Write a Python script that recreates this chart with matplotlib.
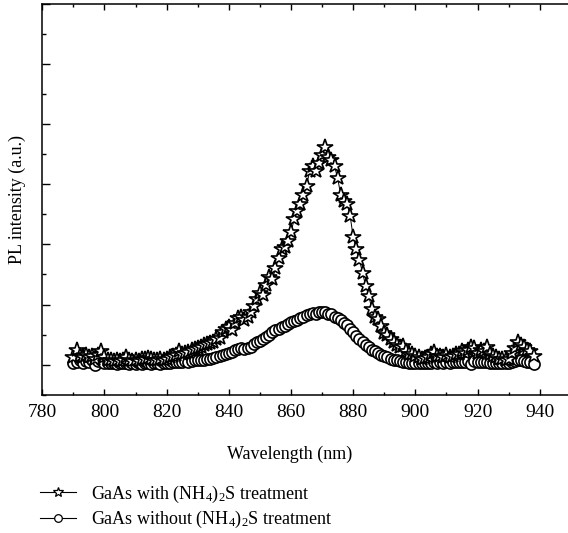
import matplotlib as mpl
mpl.use("Agg")
import matplotlib.pyplot as plt
from matplotlib.lines import Line2D
from matplotlib.ticker import MultipleLocator, NullFormatter
import numpy as np

plt.rcParams["font.family"] = ["Liberation Serif", "DejaVu Serif"]
plt.rcParams["mathtext.fontset"] = "custom"
plt.rcParams["mathtext.rm"] = "Liberation Serif"
plt.rcParams["mathtext.it"] = "Liberation Serif:italic"

# wavelength grid, 1 nm steps
wavelength = np.arange(790, 939)

# GaAs with (NH4)2S treatment (stars)
pl_treated = [
    0.12, 0.25, 0.15, 0.13, 0.16, 0.12, 0.14, 0.10, 0.16, 0.23, 0.12,
    0.08, 0.07, 0.06, 0.07, 0.06, 0.07, 0.12, 0.07, 0.06, 0.07, 0.06, 0.10, 0.10, 0.11, 0.10,
    0.08, 0.08, 0.09, 0.08, 0.10, 0.13, 0.15, 0.16, 0.22, 0.18, 0.19, 0.21, 0.25, 0.26, 0.28,
    0.30, 0.32, 0.34, 0.36, 0.38, 0.42, 0.45, 0.54, 0.60, 0.63, 0.58, 0.70, 0.78, 0.80, 0.74,
    0.79, 0.88, 0.98, 1.10, 1.20, 1.16, 1.33, 1.45, 1.42, 1.60, 1.78, 1.92, 1.95, 2.05, 2.20,
    2.42, 2.55, 2.68, 2.82, 2.98, 3.22, 3.30, 3.22, 3.36, 3.48, 3.62, 3.45, 3.40, 3.30, 3.10,
    2.82, 2.72, 2.68, 2.48, 2.12, 1.92, 1.74, 1.53, 1.31, 1.15, 0.92, 0.80, 0.76, 0.64, 0.52,
    0.50, 0.42, 0.37, 0.33, 0.30, 0.31, 0.22, 0.18, 0.17, 0.14, 0.12, 0.10, 0.11, 0.13, 0.17,
    0.21, 0.15, 0.14, 0.12, 0.16, 0.13, 0.15, 0.18, 0.17, 0.22, 0.20, 0.25, 0.30, 0.27, 0.20,
    0.24, 0.22, 0.30, 0.18, 0.14, 0.12, 0.10, 0.09, 0.08, 0.10, 0.20, 0.28, 0.38, 0.33, 0.30,
    0.25, 0.22, 0.15,
]

# GaAs without (NH4)2S treatment (circles)
pl_untreated = [
    0.02, 0.05, 0.08, 0.03, 0.06, 0.04, 0.08, 0.00, 0.06, 0.07, 0.03,
    0.02, 0.03, 0.02, 0.01, 0.03, 0.02, 0.02, 0.01, 0.02, 0.01, 0.02, 0.01, 0.02, 0.02, 0.01,
    0.02, 0.02, 0.01, 0.02, 0.03, 0.03, 0.04, 0.05, 0.04, 0.05, 0.06, 0.05, 0.06, 0.07, 0.07,
    0.08, 0.08, 0.09, 0.10, 0.11, 0.12, 0.14, 0.16, 0.18, 0.19, 0.21, 0.24, 0.26, 0.27, 0.26,
    0.28, 0.30, 0.34, 0.37, 0.40, 0.42, 0.46, 0.50, 0.54, 0.58, 0.60, 0.62, 0.65, 0.68, 0.71,
    0.73, 0.75, 0.77, 0.80, 0.82, 0.84, 0.86, 0.85, 0.87, 0.88, 0.87, 0.85, 0.84, 0.80, 0.78,
    0.74, 0.70, 0.66, 0.60, 0.54, 0.48, 0.43, 0.38, 0.33, 0.29, 0.25, 0.22, 0.19, 0.16, 0.14,
    0.12, 0.10, 0.08, 0.07, 0.06, 0.05, 0.04, 0.03, 0.03, 0.02, 0.03, 0.02, 0.03, 0.02, 0.03,
    0.04, 0.03, 0.04, 0.03, 0.04, 0.03, 0.04, 0.05, 0.04, 0.05, 0.04, 0.06, 0.01, 0.06, 0.05,
    0.04, 0.05, 0.04, 0.03, 0.03, 0.02, 0.03, 0.02, 0.02, 0.03, 0.05, 0.06, 0.07, 0.07, 0.06,
    0.05, 0.04, 0.01,
]

labels = [r"GaAs with (NH$_{4}$)$_{2}$S treatment",
          r"GaAs without (NH$_{4}$)$_{2}$S treatment"]

fig = plt.figure(figsize=(5.68, 5.33), dpi=100)
ax = fig.add_axes([0.0745, 0.2595, 0.9305, 0.733])

ax.plot(wavelength, pl_untreated, "-", color="black", lw=0.7,
        marker="o", ms=8, mfc="white", mec="black", mew=1.2)
ax.plot(wavelength, pl_treated, "-", color="black", lw=0.7,
        marker="*", ms=11.5, mfc="white", mec="black", mew=1.2)

ax.set_xlim(780, 950)
ax.set_ylim(-0.5, 6.0)
ax.xaxis.set_major_locator(MultipleLocator(20))
ax.xaxis.set_minor_locator(MultipleLocator(10))
ax.yaxis.set_major_locator(MultipleLocator(1))
ax.yaxis.set_minor_locator(MultipleLocator(0.5))
ax.yaxis.set_major_formatter(NullFormatter())
ax.tick_params(axis="x", which="both", direction="in", top=True, labelsize=14, pad=7)
ax.tick_params(axis="x", which="major", length=4, width=1)
ax.tick_params(axis="x", which="minor", length=2.5, width=1)
ax.tick_params(axis="y", which="major", direction="in", length=6, width=1)
ax.tick_params(axis="y", which="minor", direction="in", length=3, width=1)
for s in ax.spines.values():
    s.set_linewidth(1.1)

ax.set_xlabel("Wavelength (nm)", fontsize=13)
ax.xaxis.set_label_coords(0.468, -0.13)
ax.set_ylabel("PL intensity (a.u.)", fontsize=13)
ax.yaxis.set_label_coords(-0.03, 0.5)

handles = [
    Line2D([], [], color="black", lw=0.8, marker="*", ms=7.5, mfc="white", mec="black", mew=0.9),
    Line2D([], [], color="black", lw=0.8, marker="o", ms=5.5, mfc="white", mec="black", mew=0.9),
]
fig.legend(handles, labels, loc="upper left", bbox_to_anchor=(0.058, 0.106),
           frameon=False, fontsize=13, handlelength=2.0, handletextpad=0.8,
           labelspacing=0.22, borderaxespad=0)

fig.savefig("out.png", dpi=100)
